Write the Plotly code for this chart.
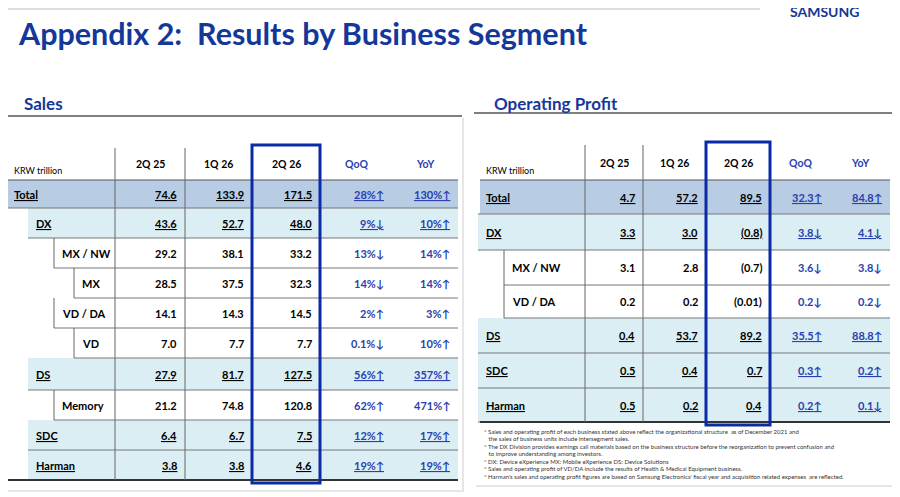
import plotly.graph_objects as go

# Sales table
sales_rows = ['Total', 'DX', 'MX / NW', 'MX', 'VD / DA', 'VD', 'DS', 'Memory', 'SDC', 'Harman']
sales_level = [0, 1, 2, 3, 2, 3, 1, 2, 1, 1]
sales_2q25 = ['74.6', '43.6', '29.2', '28.5', '14.1', '7.0', '27.9', '21.2', '6.4', '3.8']
sales_1q26 = ['133.9', '52.7', '38.1', '37.5', '14.3', '7.7', '81.7', '74.8', '6.7', '3.8']
sales_2q26 = ['171.5', '48.0', '33.2', '32.3', '14.5', '7.7', '127.5', '120.8', '7.5', '4.6']
sales_qoq = ['28%↑', '9%↓', '13%↓', '14%↓', '2%↑', '0.1%↓', '56%↑', '62%↑', '12%↑', '19%↑']
sales_yoy = ['130%↑', '10%↑', '14%↑', '14%↑', '3%↑', '10%↑', '357%↑', '471%↑', '17%↑', '19%↑']

# Operating profit table
op_rows = ['Total', 'DX', 'MX / NW', 'VD / DA', 'DS', 'SDC', 'Harman']
op_level = [0, 1, 2, 2, 1, 1, 1]
op_2q25 = ['4.7', '3.3', '3.1', '0.2', '0.4', '0.5', '0.5']
op_1q26 = ['57.2', '3.0', '2.8', '0.2', '53.7', '0.4', '0.2']
op_2q26 = ['89.5', '(0.8)', '(0.7)', '(0.01)', '89.2', '0.7', '0.4']
op_qoq = ['32.3↑', '3.8↓', '3.6↓', '0.2↓', '35.5↑', '0.3↑', '0.2↑']
op_yoy = ['84.8↑', '4.1↓', '3.8↓', '0.2↓', '88.8↑', '0.2↑', '0.1↓']

headers = ['2Q 25', '1Q 26', '2Q 26', 'QoQ', 'YoY']
footnotes = [
    '* Sales and operating profit of each business stated above reflect the organizational structure  as of December 2021 and',
    '   the sales of business units include intersegment sales.',
    '* The DX Division provides earnings call materials based on the business structure before the reorganization to prevent confusion and',
    '   to improve understanding among investors.',
    '* DX: Device eXperience MX: Mobile eXperience DS: Device Solutions',
    '* Sales and operating profit of VD/DA include the results of Health & Medical Equipment business.',
    "* Harman's sales and operating profit figures are based on Samsung Electronics' fiscal year and acquisition related expenses  are reflected.",
]

NAVY = '#14389a'
BLUE_TXT = '#2a3fb0'
FONT = 'Lato, Open Sans, sans-serif'

fig = go.Figure()
shapes = []
notes = []


def text(x, y, s, size=10, color='black', bold=False, anchor='left', under=False):
    if bold:
        s = '<b>' + s + '</b>'
    if under:
        s = '<u>' + s + '</u>'
    notes.append(dict(x=x, y=y, text=s, showarrow=False, xanchor=anchor, yanchor='middle',
                      font=dict(family=FONT, size=size, color=color)))


def line(x0, y0, x1, y1, color='#555555', width=1):
    shapes.append(dict(type='line', x0=x0, y0=y0, x1=x1, y1=y1, line=dict(color=color, width=width)))


def rect(x0, y0, x1, y1, fill, lc=None, lw=0):
    shapes.append(dict(type='rect', x0=x0, y0=y0, x1=x1, y1=y1, fillcolor=fill,
                       line=dict(color=lc or fill, width=lw), layer='below'))


def draw_table(left, right, cols, top, head_bot, bounds, names, levels, cols_data, indent, note_y=None):
    # panel with shadow
    rect(left - 4, top - 30, right + 6, bounds[-1] + (65 if note_y else 12), '#e6e6e6')
    rect(left - 6, top - 32, right + 4, bounds[-1] + (63 if note_y else 10), 'white')
    line(left - 6, top - 32, right + 4, top - 32, '#555555', 1.5)
    bot = bounds[-1]
    # row fills
    for i, lv in enumerate(levels):
        y0, y1 = bounds[i], bounds[i + 1]
        if lv == 0:
            rect(left, y0, right, y1, '#b8cce4')
        elif lv == 1:
            rect(left + indent[1] - 6, y0, right, y1, '#dbeef3')
        line(left + indent[lv] - 6, y1, right, y1, '#777777', 1)
    line(left, bounds[0], right, bounds[0], '#555555', 1.2)
    line(left, bot, right, bot, '#333333', 2)
    # vertical lines
    for c in cols[:3]:
        line(c, top, c, bot, '#666666', 1)
    for i, lv in enumerate(levels):
        if lv >= 2:
            line(left + indent[lv] - 6, bounds[i], left + indent[lv] - 6, bounds[i + 1], '#666666', 1)
    # headers
    text(left + 4, head_bot - 10, 'KRW trillion', size=9)
    for j, h in enumerate(headers):
        cx = (cols[j] + cols[j + 1]) / 2
        text(cx, (top + head_bot) / 2, h, size=10.5, bold=True,
             color='black' if j < 3 else BLUE_TXT, anchor='center')
    # cells
    for i, name in enumerate(names):
        lv = levels[i]
        ym = (bounds[i] + bounds[i + 1]) / 2
        u = lv <= 1
        text(left + indent[lv], ym, name, size=11, bold=True, under=u)
        for j, vals in enumerate(cols_data):
            text(cols[j + 1] - 6, ym, vals[i], size=11, bold=True, under=u,
                 color='black' if j < 3 else BLUE_TXT, anchor='right')
    # highlight column
    shapes.append(dict(type='rect', x0=cols[2], y0=top - 3, x1=cols[3], y1=bot + 3,
                       line=dict(color='#0a2aa8', width=3)))


sales_bounds = [180, 208, 238, 268, 298, 328, 358, 390, 420, 450, 480]
draw_table(8, 458, [115, 185, 252, 320, 392, 458], 148, 180, sales_bounds, sales_rows, sales_level,
           [sales_2q25, sales_1q26, sales_2q26, sales_qoq, sales_yoy], [4, 26, 52, 72])

op_bounds = [180, 214, 250, 285, 318, 353, 388, 422]
draw_table(480, 890, [585, 643, 706, 770, 830, 890], 145, 180, op_bounds, op_rows, op_level,
           [op_2q25, op_1q26, op_2q26, op_qoq, op_yoy], [4, 4, 30, 30], note_y=True)
for k, f in enumerate(footnotes):
    text(482, 431 + k * 7.5, f, size=6, color='#333333')

# titles
line(8, 9, 760, 9, '#bbbbbb', 1)
text(788, 11, 'SAMSUNG', size=14, color=NAVY, bold=True)
text(16, 33, 'Appendix 2:  Results by Business Segment', size=30.5, color=NAVY, bold=True)
text(22, 103, 'Sales', size=17, color=NAVY, bold=True)
text(492, 103, 'Operating Profit', size=17, color=NAVY, bold=True)

# the page body has an 8px margin, so the axes start at pixel 8
fig.update_layout(
    width=900, height=497, margin=dict(l=0, r=0, t=0, b=0),
    plot_bgcolor='white', paper_bgcolor='white', showlegend=False,
    shapes=shapes, annotations=notes,
    xaxis=dict(range=[8, 908], visible=False, fixedrange=True),
    yaxis=dict(range=[505, 8], visible=False, fixedrange=True),
)
fig.write_html('out.html')
